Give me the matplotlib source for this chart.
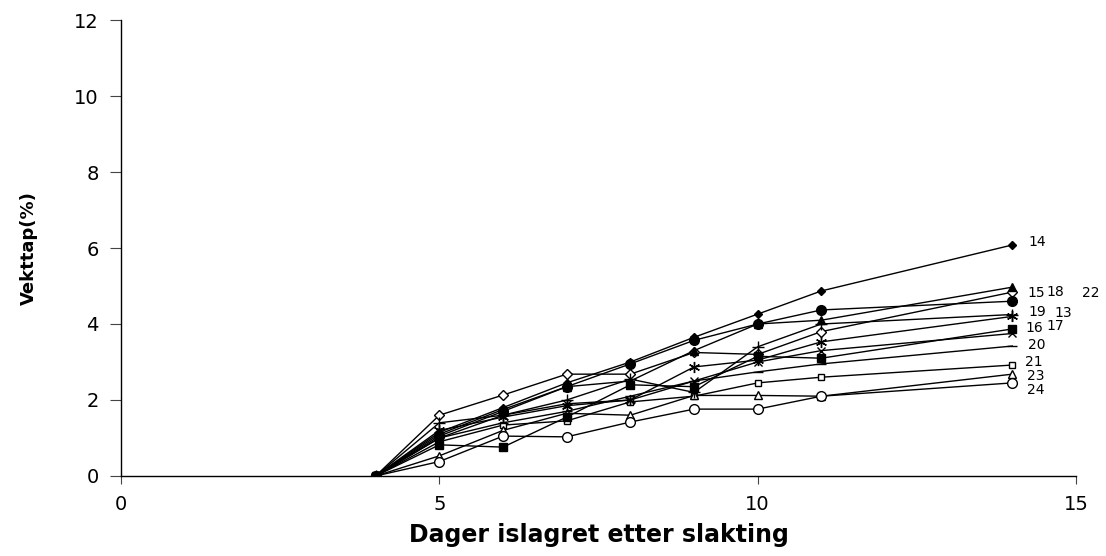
import matplotlib
matplotlib.use("Agg")
import matplotlib.pyplot as plt

# dager islagret
days = [4, 5, 6, 7, 8, 9, 10, 11, 14]

# vekttap (%) per dyr
names = ["13", "14", "15", "16", "17", "18", "19", "20", "21", "22", "23", "24"]
loss_13 = [0, 1.40, 1.60, 2.00, 2.55, 2.20, 3.40, 4.00, 4.25]
loss_14 = [0, 1.15, 1.80, 2.45, 3.00, 3.65, 4.26, 4.87, 6.08]
loss_15 = [0, 1.10, 1.75, 2.35, 2.50, 3.30, 4.00, 4.10, 4.97]
loss_16 = [0, 0.82, 0.76, 1.55, 2.40, 2.35, 3.15, 3.10, 3.87]
loss_17 = [0, 1.00, 1.60, 1.90, 2.00, 2.50, 3.00, 3.30, 3.75]
loss_18 = [0, 1.60, 2.13, 2.68, 2.68, 3.25, 3.20, 3.80, 4.84]
loss_19 = [0, 1.20, 1.55, 1.85, 2.00, 2.87, 3.05, 3.53, 4.20]
loss_20 = [0, 1.00, 1.40, 1.70, 2.10, 2.50, 2.74, 2.95, 3.42]
loss_21 = [0, 0.90, 1.34, 1.45, 1.95, 2.10, 2.45, 2.60, 2.92]
loss_22 = [0, 1.05, 1.70, 2.35, 2.95, 3.57, 4.00, 4.37, 4.60]
loss_23 = [0, 0.53, 1.20, 1.65, 1.60, 2.12, 2.12, 2.10, 2.68]
loss_24 = [0, 0.38, 1.05, 1.03, 1.42, 1.76, 1.76, 2.10, 2.45]
losses = [loss_13, loss_14, loss_15, loss_16, loss_17, loss_18,
          loss_19, loss_20, loss_21, loss_22, loss_23, loss_24]

# markør, størrelse, fylt?
styles = {
    "13": ("+", 9, True),
    "14": ("D", 4.5, True),
    "15": ("^", 6, True),
    "16": ("s", 5.5, True),
    "17": ("x", 6, True),
    "18": ("D", 5, False),
    "19": ((6, 2, 0), 8, True),
    "20": ("_", 7, True),
    "21": ("s", 5, False),
    "22": ("o", 7, True),
    "23": ("^", 6, False),
    "24": ("o", 7, False),
}

# etikett-forskyvning i piksler fra siste punkt
label_off = {
    "13": (42, 2), "14": (16, 3), "15": (15, -6), "16": (13, 1),
    "17": (34, 7), "18": (34, 0), "19": (16, 4), "20": (16, 1),
    "21": (13, 3), "22": (70, 8), "23": (15, -2), "24": (15, -7),
}

fig = plt.figure(figsize=(11.06, 5.56), dpi=100)
ax = fig.add_axes([0.1094, 0.1439, 0.8635, 0.8201])

# åpne markører først, fylte til slutt så de ligger øverst
order = sorted(range(len(names)), key=lambda i: styles[names[i]][2])
for i in order:
    name, y = names[i], losses[i]
    mk, ms, filled = styles[name]
    ax.plot(days, y, color="black", lw=1.0, marker=mk, ms=ms,
            mfc="black" if filled else "white", mec="black", mew=1.0)
    dx, dy = label_off[name]
    ax.annotate(name, (days[-1], y[-1]), xytext=(dx, dy),
                textcoords="offset pixels", ha="left", va="center",
                fontsize=10, family="DejaVu Sans")

ax.set_xlim(0, 15)
ax.set_ylim(0, 12)
ax.set_xticks([0, 5, 10, 15])
ax.set_yticks(range(0, 13, 2))
for s in ("top", "right"):
    ax.spines[s].set_visible(False)
for s in ("left", "bottom"):
    ax.spines[s].set_linewidth(1.0)
ax.tick_params(axis="y", direction="out", length=8, width=0.8,
               labelsize=14, pad=8, colors="#444444", labelcolor="black")
ax.tick_params(axis="x", direction="out", length=6, width=0.8,
               labelsize=14, pad=8, colors="#444444", labelcolor="black")

ax.set_xlabel("Dager islagret etter slakting", fontsize=17,
              fontweight="bold", labelpad=6)
ax.set_ylabel("Vekttap(%)", fontsize=13, fontweight="bold", labelpad=26)

fig.savefig("out.png", dpi=100)
